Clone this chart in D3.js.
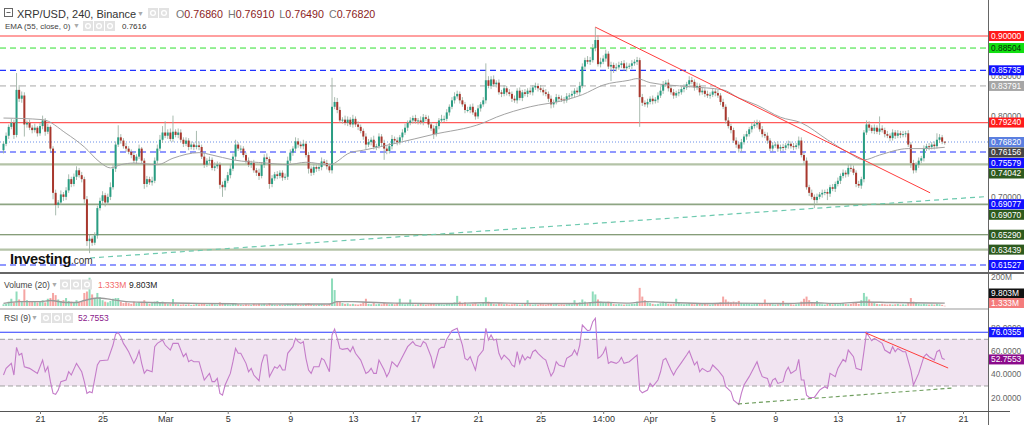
<!DOCTYPE html>
<html><head><meta charset="utf-8">
<script src="https://cdn.jsdelivr.net/npm/d3@7"></script>
<style>body{margin:0;background:#fff}svg{display:block;font-family:"Liberation Sans",Arial,sans-serif}</style>
</head><body><svg id="c" width="1024" height="425"></svg>
<script>
// ---------------- DATA ----------------
const firstCandleUTC = [2021, 1, 18, 16]; // Feb 18 2021 16:00, 4h candles
const candleHours = 4;
const firstOpen = 0.758;
const closes = [
.766,.776,.787,.792,.777,.833,.822,.826,.790,.792,.786,.783,.786,.779,.788,.795,.781,.787,.760,.705,
.690,.693,.703,.700,.708,.722,.716,.725,.733,.727,.722,.697,.645,.648,.643,.652,.686,.695,.702,.693,
.700,.712,.735,.765,.774,.770,.763,.760,.756,.752,.745,.750,.760,.745,.716,.722,.718,.720,.745,.760,
.771,.780,.776,.780,.772,.781,.777,.780,.771,.766,.770,.762,.765,.762,.764,.762,.750,.740,.745,.746,
.736,.738,.740,.715,.712,.720,.727,.735,.750,.765,.760,.760,.752,.745,.740,.742,.733,.730,.726,.740,
.749,.747,.716,.723,.728,.726,.730,.724,.725,.745,.755,.760,.769,.765,.763,.766,.752,.735,.730,.737,
.735,.737,.744,.742,.738,.733,.812,.818,.808,.795,.796,.792,.796,.790,.797,.790,.787,.782,.775,.765,
.768,.771,.762,.763,.775,.767,.760,.757,.763,.772,.770,.768,.774,.780,.786,.792,.795,.798,.794,.795,
.793,.799,.797,.790,.785,.778,.788,.795,.797,.797,.805,.812,.820,.825,.828,.820,.815,.808,.808,.812,
.805,.800,.810,.815,.820,.845,.838,.846,.840,.842,.830,.828,.835,.830,.828,.822,.820,.832,.823,.830,
.828,.832,.830,.836,.838,.835,.833,.830,.828,.822,.815,.818,.824,.822,.821,.820,.825,.826,.828,.832,
.830,.838,.862,.870,.868,.870,.885,.895,.865,.868,.872,.878,.862,.864,.860,.861,.864,.866,.860,.862,
.863,.866,.868,.870,.824,.817,.815,.818,.822,.819,.821,.826,.832,.840,.842,.835,.830,.826,.829,.830,
.834,.836,.840,.845,.843,.836,.838,.830,.832,.828,.826,.827,.831,.829,.826,.818,.812,.795,.788,.783,
.770,.765,.760,.768,.775,.778,.784,.788,.790,.792,.784,.778,.776,.770,.760,.764,.765,.760,.762,.761,
.764,.766,.763,.762,.764,.770,.752,.745,.712,.705,.700,.696,.700,.703,.705,.706,.704,.712,.710,.716,
.720,.726,.730,.728,.736,.735,.730,.716,.714,.722,.780,.790,.786,.782,.786,.781,.785,.783,.778,.776,
.773,.780,.776,.779,.777,.778,.779,.765,.742,.733,.740,.745,.748,.760,.763,.762,.765,.763,.771,.774,
.7686,.7682];
// wick lengths above / below the body, in thousandths of a dollar
const upperWick = [
3,4,3,5,4,21,6,5,4,3,4,3,5,2,4,6,3,4,2,3, 4,3,5,3,4,6,3,4,5,3,4,3,4,5,3,4,3,4,5,3,
4,6,5,4,15,4,3,4,3,3,4,3,5,2,3,4,3,5,4,5, 6,8,14,4,5,20,3,5,4,3,4,3,4,3,18,5,3,4,3,4,
3,5,4,3,4,3,4,5,4,6,3,4,3,3,4,3,4,3,5,3, 4,5,3,4,3,4,3,3,4,5,4,3,5,4,3,5,3,4,3,4,
3,4,5,3,4,3,36,6,5,4,3,5,4,3,5,3,4,3,3,4, 4,3,5,3,4,3,4,3,4,5,3,4,3,4,5,3,4,3,4,3,
5,4,3,4,3,4,4,3,5,4,4,3,4,5,4,3,4,3,4,3, 4,3,4,3,4,21,5,4,5,3,4,3,4,3,4,3,4,3,4,3,
4,3,4,3,4,3,4,3,4,3,4,3,4,3,4,3,4,3,4,3, 4,5,4,3,5,4,5,16,6,5,4,5,3,4,3,5,4,3,4,5,
3,4,3,4,3,4,3,4,3,4,3,4,5,4,3,4,3,4,3,4, 3,4,3,5,4,3,4,3,4,3,4,3,4,3,4,3,4,3,4,3,
3,4,3,4,3,4,3,4,5,4,3,4,3,4,3,4,3,4,3,4, 3,4,3,4,3,5,4,3,4,3,4,3,4,3,4,3,4,3,4,3,
4,3,4,3,4,5,4,3,4,3,3,5,4,3,4,3,15,4,3,4, 3,4,3,4,3,4,3,4,3,4,3,4,3,4,3,4,3,4,8,4,
3,0.5];
const lowerWick = [
4,3,4,3,5,3,4,5,15,4,3,4,3,4,3,4,5,3,4,8, 13,4,3,5,4,3,4,3,4,3,4,5,6,15,4,3,4,3,4,5,
3,4,3,4,3,4,3,4,3,4,3,4,3,4,6,4,3,4,3,4, 3,4,3,4,3,4,3,4,3,4,3,4,3,4,3,4,3,4,3,4,
3,4,3,5,12,4,3,4,3,4,3,4,3,4,3,4,3,4,5,3, 4,3,6,4,3,4,3,4,3,4,3,4,3,4,3,4,3,6,4,3,
4,3,4,3,4,3,4,3,4,3,4,3,4,3,4,3,4,3,4,6, 3,4,3,4,3,4,14,4,3,4,3,4,3,4,3,4,3,4,3,4,
3,4,3,4,3,6,3,4,3,4,3,4,3,4,3,4,3,4,3,4, 3,4,3,4,3,4,3,4,3,4,3,4,3,4,3,4,3,4,3,4,
3,4,3,4,3,4,3,4,3,4,5,4,3,4,3,4,3,4,3,4, 3,4,3,4,3,4,3,4,3,4,3,4,3,18,6,4,3,4,3,4,
3,4,3,4,37,4,3,4,3,4,3,4,3,4,3,4,3,4,3,4, 3,4,3,4,3,4,3,4,3,4,3,4,3,4,3,4,3,4,3,4,
3,4,5,4,3,4,3,4,3,4,3,4,3,4,3,4,3,4,3,4, 3,4,3,4,3,4,3,4,3,4,3,10,4,3,4,3,8,4,3,4,
3,4,3,4,3,4,3,4,3,4,4,3,4,3,4,3,4,3,4,3, 4,3,4,3,4,3,4,3,6,4,3,4,3,4,3,4,3,4,3,4,
3,3.3];
// volume per candle, millions
const volumes = [
12,15,30,50,25,100,45,35,115,40,35,30,28,25,30,40,25,50,55,90, 75,45,35,40,55,35,30,22,40,25,30,90,100,195,80,50,90,60,40,30,
25,35,50,55,55,30,20,25,20,15,30,20,25,25,40,20,15,20,30,35, 25,30,20,15,15,48,15,12,10,12,10,12,8,10,15,12,15,20,10,12,
15,12,10,25,20,15,12,10,15,20,12,10,8,12,10,8,15,12,15,12, 15,10,20,12,10,8,10,8,10,15,12,15,18,10,8,10,15,20,12,10,
8,10,12,10,8,15,190,110,35,30,20,15,18,12,15,12,10,15,25,50, 15,12,20,12,15,12,20,15,12,15,12,20,50,15,12,15,45,12,10,12,
15,12,10,12,15,20,12,15,12,10,15,18,20,25,70,30,20,25,15,12, 15,20,12,15,25,60,30,20,15,12,20,15,12,15,10,12,15,12,10,12,
15,40,12,10,12,10,15,12,10,15,20,12,15,10,12,10,12,15,12,40, 15,25,45,30,20,25,100,80,45,30,25,20,30,25,15,12,15,12,10,12,
12,15,15,30,125,65,40,25,20,15,12,15,20,30,25,15,12,15,50,20, 15,12,15,20,15,12,15,20,12,15,12,10,12,15,20,25,65,45,30,25,
30,25,35,20,15,20,15,12,15,20,15,20,45,15,20,12,10,12,15,35, 12,15,12,10,12,20,30,50,65,40,25,20,35,15,12,10,15,20,12,15,
12,15,20,15,12,15,20,25,15,40,90,65,45,25,20,15,12,15,12,10, 12,10,12,15,10,12,10,25,55,30,20,15,12,15,12,10,12,10,15,12,
8,1.333];
// [candle index, value]
const emaPoints = [[0,.798],[15,.796],[24,.779],[31,.762],[37,.743],[41,.736],[45,.740],[50,.742],[59,.740],[65,.748],
[75,.755],[80,.752],[88,.746],[101,.742],[109,.740],[116,.743],[125,.740],[133,.755],[138,.758],[151,.767],[164,.777],
[184,.792],[189,.799],[202,.812],[215,.820],[222,.827],[230,.839],[240,.845],[243,.847],[248,.842],[263,.837],[276,.833],
[282,.823],[289,.814],[298,.799],[306,.792],[316,.771],[324,.755],[330,.746],[336,.752],[347,.760],[353,.760],[361,.7616]];
const volMaPoints = [[0,18],[6,30],[14,30],[18,38],[24,24],[28,24],[31,38],[36,55],[41,46],[47,30],[53,26],[60,22],[75,18],
[90,15],[110,14],[125,14],[128,30],[134,30],[140,26],[150,20],[170,17],[185,22],[200,18],[220,17],[228,26],[240,20],[246,30],
[255,24],[270,17],[280,20],[300,17],[310,22],[320,18],[330,28],[340,24],[361,20]];
const rsiPoints = [[0,39.4],[1,45.1],[3,49.4],[4,39.4],[5,63.1],[6,56.5],[7,58],[8,46.5],[10,45.1],[11,43.7],[13,40.8],[15,52.2],
[16,42.2],[17,46.5],[18,33.7],[19,23.7],[20,22.8],[21,26.5],[22,33.7],[24,35.1],[25,42.2],[26,39.4],[28,49.4],[30,42.2],[31,33.7],
[32,23.7],[33,25.1],[34,24.2],[36,48],[37,51.7],[40,52.2],[42,65.1],[43,74.5],[44,75.7],[45,72.2],[46,66.5],[47,63.1],[48,59.4],
[50,49.4],[51,53.7],[52,60.2],[53,49.4],[54,40.8],[55,43.7],[57,42.2],[58,63.7],[59,66.5],[61,69.4],[62,65.1],[64,60.8],[65,66.5],
[67,66.5],[69,55.1],[70,58],[71,50.8],[72,52.2],[73,50.8],[75,50.8],[77,35.1],[79,40.8],[80,33.7],[81,33.7],[82,36.5],[83,23.7],
[84,22.2],[85,30.8],[87,40.8],[88,50.8],[89,62.2],[90,58],[91,58],[93,49.4],[94,42.2],[95,45.1],[96,39.4],[98,34.5],[99,49.4],
[100,56.5],[101,56.5],[102,38],[103,42.2],[104,46.5],[105,45.1],[106,48],[107,43.7],[108,43.7],[109,58],[111,63.7],[112,70.8],
[113,68],[114,66.5],[115,68],[116,53.7],[117,43.7],[118,40.8],[119,46.5],[121,46.5],[122,53.7],[123,52.2],[125,42.2],[126,73.7],
[127,78.8],[128,70.8],[129,62.2],[130,61.4],[132,62.2],[133,59.4],[134,63.7],[135,58],[137,52.2],[139,40.8],[140,42.2],[141,45.1],
[142,40.8],[143,40.8],[144,52.2],[146,43.7],[147,38],[148,42.2],[149,50.8],[151,46.5],[153,55.1],[155,63.7],[157,68],[158,65.1],
[160,63.7],[161,68],[162,66.5],[164,55.1],[165,45.1],[167,61.4],[168,63.1],[169,63.1],[170,70],[171,73.7],[172,77.4],[174,79.4],
[175,72.2],[176,65.1],[177,53.7],[178,52.2],[179,55.1],[180,49.4],[181,43.7],[182,55.1],[184,60.8],[185,79.4],[186,69.4],[187,73.7],
[188,69.4],[189,70],[190,58],[191,52.8],[192,56.5],[194,52.2],[195,48],[196,46.5],[197,59.4],[198,49.4],[199,56.5],[200,52.2],
[201,55.1],[202,53.7],[203,59.4],[204,60.8],[205,58],[207,53.7],[208,52.2],[209,45.1],[210,38.5],[211,42.2],[212,50.8],[213,48],
[215,46.5],[216,53.7],[218,56.5],[219,60.8],[220,56.5],[221,65.1],[222,82.2],[224,77.4],[225,78],[226,85.1],[227,88],[228,53.7],
[229,55.1],[230,58],[231,63.1],[232,49.4],[233,50.8],[235,49.4],[236,50.8],[237,54.5],[238,49.4],[240,50.8],[243,56.5],[244,26.5],
[245,24.2],[247,26.5],[248,32.2],[249,29.4],[251,35.1],[252,42.2],[253,52.2],[254,53.7],[256,43.7],[257,39.4],[258,43.7],[260,50],
[262,56.5],[263,60],[265,48],[266,50.8],[267,42.2],[268,45.1],[270,42.2],[271,43.1],[272,48],[274,43.7],[275,40.8],[276,38],
[277,29.4],[279,25.1],[280,17.9],[282,14.2],[283,23.7],[284,30.8],[286,38],[287,42.2],[289,50.8],[290,43.7],[291,38],[293,36.5],
[294,29.4],[295,35.1],[296,36.5],[297,32.2],[299,33.7],[300,42.2],[301,46],[302,40.8],[304,43.7],[305,52.8],[306,35.1],[307,35.1],
[308,22.2],[309,20.2],[311,20.2],[313,26.5],[314,28],[315,29.4],[316,28],[317,40.8],[319,38],[320,45.1],[322,52.8],[323,50.8],
[324,60.8],[326,55.1],[327,45.1],[329,43.7],[330,59.4],[331,75.7],[332,72.2],[333,68.8],[334,70.8],[336,68],[337,66.5],[338,60.8],
[340,58],[341,63.7],[342,59.4],[343,62.2],[345,59.4],[346,59.4],[348,43.7],[349,30.8],[351,40.8],[353,55.1],[354,57.4],[355,55.1],
[357,52.2],[358,59.4],[359,60.8],[360,53.7],[361,52.7553]];
// horizontal price levels drawn on the chart
const levelValues = [0.90000, 0.88504, 0.85735, 0.83791, 0.79240, 0.75579, 0.74042, 0.69070, 0.65290, 0.63439, 0.61527];
const priceTagValues = [0.90000, 0.88504, 0.85735, 0.83791, 0.79240, 0.76820, 0.76156, 0.75579, 0.74042, 0.69077, 0.69070, 0.65290, 0.63439, 0.61527];
const priceTicks = [0.90, 0.85, 0.80, 0.75, 0.70, 0.65];
const rsiTicks = [80, 60, 40, 20];
const rsiTagValues = [76.0355, 52.7553];
const rsiBand = [70, 30];
const volTick = 200;
const volTagTexts = ["9.803M", "1.333M"];
// trend lines [candle index, value]
const priceTrendRed = [[227, 0.911], [355.4, 0.705]];
const priceTrendSupport = [[33.2, 0.624], [377.6, 0.7005]];
const rsiTrendRed = [[330.5, 75.7], [362.3, 45.4]];
const rsiTrendSupport = [[281.7, 14.6], [364.2, 28.3]];
// x axis
const xTickDates = [[1,21],[1,25],[2,1],[2,5],[2,9],[2,13],[2,17],[2,21],[2,25],[2,29],[3,1],[3,5],[3,9],[3,13],[3,17],[3,21]];
const xTickLabels = ["21","25","Mar","5","9","13","17","21","25","14:00","Apr","5","9","13","17","21"];
// legend values
const ohlc = {O:"0.76860", H:"0.76910", L:"0.76490", C:"0.76820"};
const emaLegendValue = "0.7616";
const rsiLegendValue = "52.7553";

// ---------------- DRAWING ----------------
const svg = d3.select("#c");
const W = 1024, plotR = 988;
const t0 = Date.UTC(...firstCandleUTC);
const xTime = d3.scaleUtc().domain([new Date(Date.UTC(2021,1,21)), new Date(Date.UTC(2021,3,21))]).range([40, 963]);
const xi = i => xTime(new Date(t0 + i * candleHours * 3600000));
const yP = d3.scaleLinear().domain([0.9, 0.61527]).range([36, 265]);
const yV = d3.scaleLinear().domain([0, 200]).range([306, 277]);
const yR = d3.scaleLinear().domain([0, 100]).range([421, 304.3]);

const defs = svg.append("defs");
defs.append("clipPath").attr("id","cp").append("rect").attr("x",0).attr("y",0).attr("width",plotR).attr("height",272);
defs.append("clipPath").attr("id","cv").append("rect").attr("x",0).attr("y",274).attr("width",plotR).attr("height",34);
defs.append("clipPath").attr("id","cr").append("rect").attr("x",0).attr("y",310).attr("width",plotR).attr("height",100);

const gP = svg.append("g").attr("clip-path","url(#cp)");
// levels
const levelStyle = [
  {c:"#ff4040", w:1, d:null}, {c:"#2ee02e", w:1, d:"6,4"}, {c:"#2233ff", w:1.2, d:"6,4"}, {c:"#a9a9a9", w:1, d:"6,4"},
  {c:"#ff5a5a", w:1.3, d:null}, {c:"#2233ff", w:1.2, d:"6,4"}, {c:"#b4c3a7", w:2.2, d:null}, {c:"#8ea583", w:1.6, d:null},
  {c:"#5e7c4d", w:1.2, d:null}, {c:"#b4c3a7", w:2.2, d:null}, {c:"#2233ff", w:1.2, d:"6,4"}];
levelValues.forEach((v, k) => {
  gP.append("line").attr("x1",0).attr("x2",plotR).attr("y1",yP(v)).attr("y2",yP(v))
    .attr("stroke",levelStyle[k].c).attr("stroke-width",levelStyle[k].w).attr("stroke-dasharray",levelStyle[k].d);
});
const lastClose = closes[closes.length-1];
gP.append("line").attr("x1",0).attr("x2",plotR).attr("y1",yP(lastClose)).attr("y2",yP(lastClose))
  .attr("stroke","#6a8fe8").attr("stroke-width",1).attr("stroke-dasharray","1,2");
// support trend line (teal dashed)
gP.append("line").attr("x1",xi(priceTrendSupport[0][0])).attr("y1",yP(priceTrendSupport[0][1]))
  .attr("x2",xi(priceTrendSupport[1][0])).attr("y2",yP(priceTrendSupport[1][1]))
  .attr("stroke","#6cc9ae").attr("stroke-width",1.2).attr("stroke-dasharray","5,4");

// candles
const candles = closes.map((c, i) => {
  const o = i ? closes[i-1] : firstOpen;
  return {i, o, c, h: Math.max(o,c) + upperWick[i]/1000, l: Math.min(o,c) - lowerWick[i]/1000};
});
const gC = gP.append("g");
gC.selectAll("line.w").data(candles).join("line").attr("class","w")
  .attr("x1",d=>xi(d.i)).attr("x2",d=>xi(d.i)).attr("y1",d=>yP(d.h)).attr("y2",d=>yP(d.l))
  .attr("stroke","#9fb3a6").attr("stroke-width",0.9);
gC.selectAll("rect").data(candles).join("rect")
  .attr("x",d=>xi(d.i)-1).attr("width",2)
  .attr("y",d=>yP(Math.max(d.o,d.c))).attr("height",d=>Math.max(1, Math.abs(yP(d.o)-yP(d.c))))
  .attr("fill",d=>d.c>=d.o ? "#2a9d82" : "#a8372d");
// EMA
gP.append("path").datum(emaPoints).attr("fill","none").attr("stroke","#a3a3a3").attr("stroke-width",1)
  .attr("d", d3.line().x(d=>xi(d[0])).y(d=>yP(d[1])).curve(d3.curveMonotoneX));
// red downtrend
gP.append("line").attr("x1",xi(priceTrendRed[0][0])).attr("y1",yP(priceTrendRed[0][1]))
  .attr("x2",xi(priceTrendRed[1][0])).attr("y2",yP(priceTrendRed[1][1]))
  .attr("stroke","#ff3c3c").attr("stroke-width",1);

// Investing logo
const logo = svg.append("text").attr("x",10).attr("y",264).attr("fill","#111");
logo.append("tspan").attr("font-size",14.5).attr("font-weight","bold").attr("letter-spacing","-0.3").text("Investing");
logo.append("tspan").attr("font-size",10).attr("fill","#333").text(".com");

// ---------- volume panel ----------
const gV = svg.append("g").attr("clip-path","url(#cv)");
gV.selectAll("rect").data(candles).join("rect")
  .attr("x",d=>xi(d.i)-1).attr("width",2)
  .attr("y",d=>yV(volumes[d.i])).attr("height",d=>Math.max(0.5, yV(0)-yV(volumes[d.i])))
  .attr("fill",d=>d.c>=d.o ? "#8fdcbb" : "#f5a5a3");
gV.append("path").datum(volMaPoints).attr("fill","none").attr("stroke","#9a9a9a").attr("stroke-width",1.4)
  .attr("d", d3.line().x(d=>xi(d[0])).y(d=>yV(d[1])).curve(d3.curveMonotoneX));

// ---------- RSI panel ----------
const gR = svg.append("g").attr("clip-path","url(#cr)");
gR.append("rect").attr("x",0).attr("width",plotR).attr("y",yR(rsiBand[0])).attr("height",yR(rsiBand[1])-yR(rsiBand[0]))
  .attr("fill","#f1e4f1");
rsiBand.forEach(v => gR.append("line").attr("x1",0).attr("x2",plotR).attr("y1",yR(v)).attr("y2",yR(v))
  .attr("stroke","#a0a0a0").attr("stroke-dasharray","5,3"));
gR.append("line").attr("x1",0).attr("x2",plotR).attr("y1",yR(rsiTagValues[0])).attr("y2",yR(rsiTagValues[0]))
  .attr("stroke","#2b3bff").attr("stroke-width",1.2);
gR.append("path").datum(rsiPoints).attr("fill","none").attr("stroke","#c47cc9").attr("stroke-width",1.1)
  .attr("d", d3.line().x(d=>xi(d[0])).y(d=>yR(d[1])));
gR.append("line").attr("x1",xi(rsiTrendRed[0][0])).attr("y1",yR(rsiTrendRed[0][1]))
  .attr("x2",xi(rsiTrendRed[1][0])).attr("y2",yR(rsiTrendRed[1][1])).attr("stroke","#ff3c3c").attr("stroke-width",1);
gR.append("line").attr("x1",xi(rsiTrendSupport[0][0])).attr("y1",yR(rsiTrendSupport[0][1]))
  .attr("x2",xi(rsiTrendSupport[1][0])).attr("y2",yR(rsiTrendSupport[1][1]))
  .attr("stroke","#6f9e5e").attr("stroke-width",1.1).attr("stroke-dasharray","4,3");

// ---------- frame / separators ----------
svg.append("line").attr("x1",0).attr("x2",W).attr("y1",273).attr("y2",273).attr("stroke","#666").attr("stroke-width",2);
svg.append("line").attr("x1",0).attr("x2",plotR).attr("y1",309).attr("y2",309).attr("stroke","#999").attr("stroke-width",1);
svg.append("line").attr("x1",plotR+0.5).attr("x2",plotR+0.5).attr("y1",0).attr("y2",425).attr("stroke","#666").attr("stroke-width",1);

// x axis
const xAxis = d3.axisBottom(xTime)
  .tickValues(xTickDates.map(d => new Date(Date.UTC(2021, d[0], d[1]))))
  .tickFormat((d, k) => xTickLabels[k]).tickSize(3).tickSizeOuter(0);
const gx = svg.append("g").attr("transform","translate(0,411)").call(xAxis);
gx.select(".domain").attr("d","M0,0.5H1010").attr("stroke","#555");
gx.selectAll(".tick line").attr("stroke","#777");
gx.selectAll("text").attr("font-family",'"Liberation Sans Narrow","Liberation Sans",Arial,sans-serif')
  .attr("font-size",9).attr("fill","#333").attr("dy","0.6em");

// ---------- right axis ticks & tags ----------
const axisFont = 8.4;
function tickText(y, txt){
  svg.append("text").attr("x",991).attr("y",y).attr("dy","0.35em").attr("font-size",axisFont).attr("fill","#666").text(txt);
}
// compute tag positions first (stacked so they do not overlap)
let prevY = -100;
const priceTags = priceTagValues.map(v => ({v, y: yP(v)})).sort((a,b)=>a.y-b.y).map(t => {
  const y = Math.max(t.y, prevY + 10.5); prevY = y; return {v: t.v, y};
});
// price tick labels that are not fully covered by a tag
priceTicks.filter(v => priceTags.every(t => Math.abs(t.y - yP(v)) >= 5)).forEach(v => tickText(yP(v), v.toFixed(5)));
rsiTicks.forEach(v => tickText(yR(v), v.toFixed(4)));
tickText(yV(volTick), volTick + "M");

function tag(y, txt, bg, fg){
  svg.append("rect").attr("x",989).attr("y",y-5).attr("width",35).attr("height",10).attr("fill",bg);
  svg.append("text").attr("x",991).attr("y",y).attr("dy","0.35em").attr("font-size",axisFont).attr("fill",fg).text(txt);
}
const tagColor = v => ({
  "0.90000":["#ff1a1a","#fff"], "0.88504":["#11e011","#0b2b0b"], "0.85735":["#1010ff","#fff"], "0.83791":["#a6a6a6","#fff"],
  "0.79240":["#ff1a1a","#fff"], "0.76820":["#5b7fe0","#fff"], "0.76156":["#454545","#fff"], "0.75579":["#1010ff","#fff"],
  "0.74042":["#2d5a1e","#fff"], "0.69077":["#1010ff","#fff"], "0.69070":["#2d5a1e","#fff"], "0.65290":["#2d5a1e","#fff"],
  "0.63439":["#2d5a1e","#fff"], "0.61527":["#1010ff","#fff"]})[v.toFixed(5)];
priceTags.forEach(t => { const [bg, fg] = tagColor(t.v); tag(t.y, t.v.toFixed(5), bg, fg); });
tag(yR(rsiTagValues[0]), rsiTagValues[0].toFixed(4), "#1414ff", "#fff");
tag(yR(rsiTagValues[1]), rsiTagValues[1].toFixed(4), "#8b0a8b", "#fff");
tag(Math.min(yV(9.803), 303) - 9.5, volTagTexts[0], "#111", "#fff");
tag(Math.min(yV(1.333), 303), volTagTexts[1], "#f47c7c", "#fff");

// ---------- legends ----------
function icons(x, y, n){
  for (let k=0;k<n;k++){
    svg.append("rect").attr("x",x+k*11).attr("y",y).attr("width",10).attr("height",10).attr("fill","#e2e2e2");
    svg.append("circle").attr("cx",x+k*11+5).attr("cy",y+5).attr("r",2.4).attr("fill","none").attr("stroke","#fff").attr("stroke-width",1.3);
  }
}
function caret(x, y){ svg.append("text").attr("x",x).attr("y",y).attr("font-size",7).attr("fill","#aaa").text("▼"); }
// row 1
svg.append("rect").attr("x",4.5).attr("y",8.5).attr("width",8).attr("height",8).attr("fill","none").attr("stroke","#666");
svg.append("line").attr("x1",6.5).attr("x2",10.5).attr("y1",12.5).attr("y2",12.5).attr("stroke","#666");
svg.append("text").attr("x",17).attr("y",17.5).attr("font-size",11).attr("fill","#333").text("XRP/USD, 240, Binance");
caret(137, 15.5); icons(148, 8, 2);
const ohlcT = svg.append("text").attr("x",176).attr("y",17.5).attr("font-size",10.7);
["O","H","L","C"].forEach((k, n) => {
  ohlcT.append("tspan").attr("fill","#777").attr("dx", n ? 5 : 0).text(k);
  ohlcT.append("tspan").attr("fill","#8b1c1c").text(ohlc[k]);
});
// row 2
svg.append("text").attr("x",5).attr("y",29).attr("font-size",8).attr("fill","#444").text("EMA (55, close, 0)");
caret(73, 28); icons(83, 21, 3);
svg.append("text").attr("x",122).attr("y",29).attr("font-size",8).attr("fill","#333").text(emaLegendValue);
// volume legend
svg.append("text").attr("x",4).attr("y",287.5).attr("font-size",8.5).attr("fill","#444").text("Volume (20)");
caret(51, 286.5); icons(60, 279.5, 3);
svg.append("text").attr("x",98).attr("y",287.5).attr("font-size",8.5).attr("fill","#f26a6a").text(volTagTexts[1]);
svg.append("text").attr("x",129).attr("y",287.5).attr("font-size",8.5).attr("fill","#222").text(volTagTexts[0]);
// RSI legend
svg.append("text").attr("x",4).attr("y",321).attr("font-size",8.5).attr("fill","#444").text("RSI (9)");
caret(31, 320); icons(41, 313, 3);
svg.append("text").attr("x",78).attr("y",321).attr("font-size",8.5).attr("fill","#8b1a8b").text(rsiLegendValue);
</script></body></html>
